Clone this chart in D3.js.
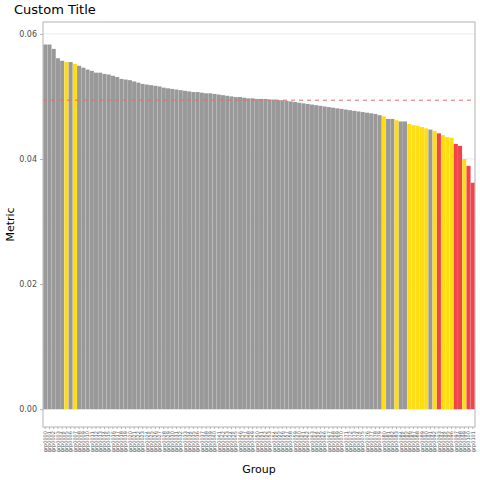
<!DOCTYPE html>
<html><head><meta charset="utf-8">
<script src="https://cdn.jsdelivr.net/npm/d3@7"></script>
<style>body{margin:0;background:#fff}text{font-family:"DejaVu Sans",sans-serif}</style>
</head><body><div id="chart"></div>
<script>
// values, sorted descending
var values = [0.0583,0.0583,0.0576,0.0561,0.0557,0.0555,0.0555,0.0552,0.0549,0.0546,
  0.0543,0.0541,0.0538,0.0538,0.0536,0.0535,0.0533,0.0531,0.0528,0.0527,
  0.0526,0.0524,0.0522,0.0520,0.0519,0.0518,0.0517,0.0516,0.0514,0.0513,
  0.0512,0.0511,0.0510,0.0509,0.0508,0.0507,0.0507,0.0506,0.0505,0.0505,
  0.0504,0.0503,0.0502,0.0501,0.0500,0.0499,0.0499,0.0498,0.0497,0.0497,
  0.0496,0.0496,0.0496,0.0495,0.0495,0.0494,0.0494,0.0493,0.0492,0.0491,
  0.0490,0.0489,0.0488,0.0487,0.0486,0.0485,0.0484,0.0483,0.0482,0.0481,
  0.0480,0.0479,0.0478,0.0477,0.0476,0.0475,0.0474,0.0473,0.0472,0.0470,
  0.0468,0.0464,0.0464,0.0462,0.0460,0.0460,0.0456,0.0454,0.0453,0.0451,
  0.0449,0.0447,0.0445,0.0441,0.0438,0.0435,0.0434,0.0424,0.0421,0.0400,
  0.0389,0.0362];
var flagList = values.map(function(v, i) { return i == 5 || i == 7 ? "Y" : "g"; });
var tail = ["Y","g","g","Y","g","g","Y","Y","Y","Y","Y","g","Y","R","Y","Y","Y","R","R","Y","R","R"];
tail.forEach(function(f, k) { flagList[values.length - tail.length + k] = f; });
var groups = values.map(function(v, i) { return "grp" + String(10000 + i).slice(1); });
var refLine = 0.0494;
var yTicks = [0, 0.02, 0.04, 0.06];
var colors = {g: "#999999", Y: "#FFDD15", R: "#F0444A"};

var W = 480, H = 480, L = 43, R = 475, T = 22, B = 427;
var svg = d3.select("#chart").append("svg").attr("width", W).attr("height", H);

var x = d3.scaleBand().domain(groups).range([L, R]).paddingInner(0.04).paddingOuter(0.05);
var y = d3.scaleLinear().domain([-0.00285, 0.0619]).range([B, T]);

// grid
[0.01, 0.03, 0.05].forEach(function(v) {
  svg.append("line").attr("x1", L).attr("x2", R).attr("y1", y(v)).attr("y2", y(v))
    .attr("stroke", "#f2f2f2").attr("stroke-width", 0.5);
});
yTicks.forEach(function(v) {
  svg.append("line").attr("x1", L).attr("x2", R).attr("y1", y(v)).attr("y2", y(v))
    .attr("stroke", "#e6e6e6").attr("stroke-width", 0.8);
});

svg.selectAll("rect.bar").data(values).enter().append("rect")
  .attr("x", function(d, i) { return x(groups[i]); })
  .attr("width", x.bandwidth())
  .attr("y", function(d) { return y(d); })
  .attr("height", function(d) { return y(0) - y(d); })
  .attr("fill", function(d, i) { return colors[flagList[i]]; });

svg.append("line").attr("x1", L).attr("x2", R).attr("y1", y(refLine)).attr("y2", y(refLine))
  .attr("stroke", "#e36b6b").attr("stroke-dasharray", "4,4").attr("stroke-width", 1);

svg.append("rect").attr("x", L).attr("y", T).attr("width", R - L).attr("height", B - T)
  .attr("fill", "none").attr("stroke", "#b3b3b3").attr("stroke-width", 1);

// y axis
var ya = svg.append("g").attr("transform", "translate(" + L + ",0)")
  .call(d3.axisLeft(y).tickValues(yTicks).tickFormat(d3.format(".2f")).tickSize(3));
ya.select(".domain").remove();
ya.selectAll("line").attr("stroke", "#b3b3b3");
ya.selectAll("text").attr("fill", "#4d4d4d").style("font-size", "8px");

// x axis
var xa = svg.append("g").attr("transform", "translate(0," + B + ")")
  .call(d3.axisBottom(x).tickSize(2));
xa.select(".domain").remove();
xa.selectAll("line").attr("stroke", "#b3b3b3");
xa.selectAll("text").attr("fill", "#4d4d4d").style("font-size", "5px")
  .attr("transform", "rotate(-90)").attr("text-anchor", "end")
  .attr("x", -4).attr("y", 0).attr("dy", "0.35em");

svg.append("text").attr("x", 14).attr("y", 14).text("Custom Title")
  .style("font-size", "13px").attr("fill", "#000");
svg.append("text").attr("x", (L + R) / 2).attr("y", 473).attr("text-anchor", "middle")
  .text("Group").style("font-size", "11px");
svg.append("text").attr("transform", "translate(14," + (T + B) / 2 + ") rotate(-90)")
  .attr("text-anchor", "middle").text("Metric").style("font-size", "11px");
</script></body></html>
